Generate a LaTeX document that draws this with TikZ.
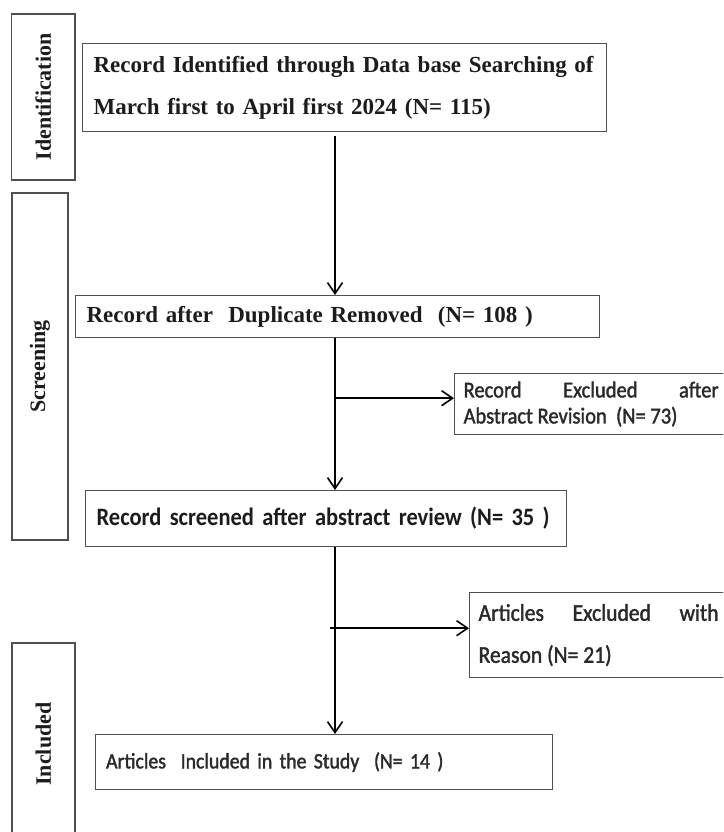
\documentclass[tikz,border=0pt]{standalone}
\usepackage{fontspec}
\setmainfont{Liberation Serif}
\newfontfamily\calfont[FakeStretch=0.9]{Carlito}
\newfontfamily\calmedium[FakeStretch=0.9, FakeBold=1.6]{Carlito}
\usepackage{xcolor}
\usepackage{tikz}
\usetikzlibrary{arrows.meta, positioning, calc}
\definecolor{boxline}{HTML}{505050}
\definecolor{ink}{HTML}{1c1c1c}
\definecolor{softink}{HTML}{2a2a2a}

\begin{document}
\begin{tikzpicture}[x=1pt, y=-1pt,
    every node/.style={text=ink},
    stage/.style={
        draw=boxline, line width=1.2pt, rotate=90, inner sep=0pt,
        font=\fontsize{22}{26}\selectfont\bfseries,
    },
    flowbox/.style={
        draw=boxline, line width=1.2pt, anchor=north west,
        inner xsep=11pt, inner ysep=0pt, align=left,
    },
    sidebox/.style={
        draw=boxline, line width=1.2pt, anchor=north west, text=softink,
        inner xsep=9pt, inner ysep=0pt, align=justify,
    },
    flow/.style={
        draw=black, line width=1.6pt, -{Straight Barb[length=11pt, width=15pt]},
    },
]
\clip (0,0) rectangle (723,832);

% ── Stage bars on the left ────────────────────────────────────────────
\node[stage, minimum width=166pt, minimum height=63.5pt] (identbar) at (43.25,97)  {Identification};
\node[stage, minimum width=347pt, minimum height=56pt]   (screenbar) at (40,366.5) {Screening};
\node[stage, minimum width=202pt, minimum height=63pt]   (inclbar)  at (43.5,744)  {Included};

% ── Main flow ─────────────────────────────────────────────────────────
\coordinate (spine) at (335,0);

\node[flowbox, font=\fontsize{23}{42}\selectfont\bfseries,
      text width=502pt, minimum height=88pt] (found) at (82,43)
    {Record Identified through Data base Searching of\\
     March first to April first 2024 (N= 115)};

\node[flowbox, font=\fontsize{23}{28}\selectfont\bfseries,
      text width=502pt, minimum height=42pt] (dedup) at (75,295)
    {Record after\ \ Duplicate Removed\ \ (N= 108 )};

\node[flowbox, font=\fontsize{25}{30}\selectfont\calfont\bfseries,
      text width=459pt, minimum height=56pt] (screened) at (85,490)
    {Record screened after abstract review (N= 35 )};

\node[flowbox, text=softink, font=\fontsize{22}{28}\selectfont\calmedium,
      text width=435pt, minimum height=55pt] (included) at (94.5,734)
    {Articles\ \ Included in the Study\ \ (N= 14 )};

% ── Exclusions on the right ───────────────────────────────────────────
\node[sidebox, font=\fontsize{22.8}{26}\selectfont\calmedium,
      text width=255pt, minimum height=61pt] (absexcl) at (454,373)
    {Record Excluded after\linebreak Abstract Revision\ \ (N= 73)};

\node[sidebox, font=\fontsize{24}{42}\selectfont\calmedium,
      text width=240pt, minimum height=85pt] (reasonexcl) at (469,592)
    {Articles Excluded with\linebreak Reason (N= 21)};

% ── Arrows ────────────────────────────────────────────────────────────
\draw[flow, shorten <=4pt] (found.south -| spine) -- (dedup.north -| spine);
\draw[flow] (dedup.south -| spine) -- (screened.north -| spine);
\coordinate (split1) at ($(dedup.south -| spine)+(0,60)$);
\draw[flow] (split1) -- (split1 -| absexcl.west);

\draw[flow] (screened.south -| spine) -- (included.north -| spine);
\coordinate (split2) at ($(screened.south -| spine)+(-5,81)$);
\draw[flow] (split2) -- (split2 -| reasonexcl.west);

\end{tikzpicture}
\end{document}
